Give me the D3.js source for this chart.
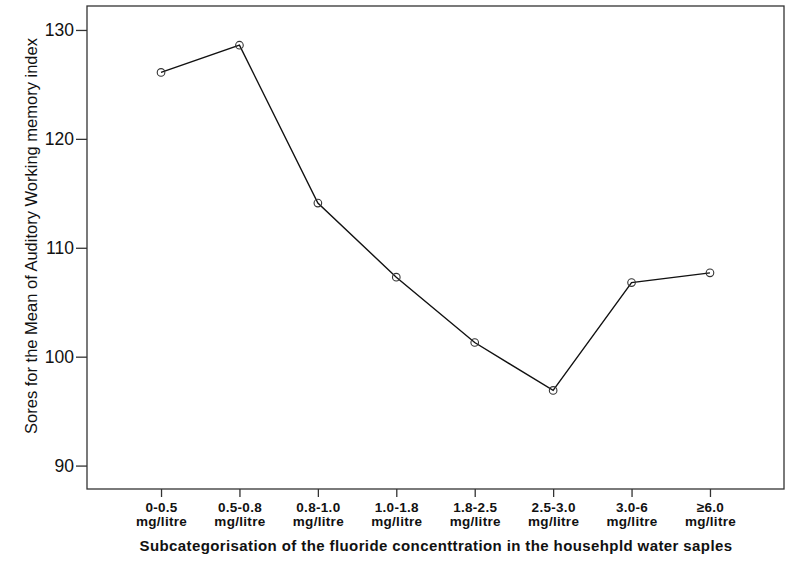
<!DOCTYPE html>
<html><head><meta charset="utf-8">
<script src="https://cdn.jsdelivr.net/npm/d3@7"></script>
<style>body{margin:0;background:#fff}svg{display:block}</style>
</head><body>
<script>
const categories = ["0-0.5", "0.5-0.8", "0.8-1.0", "1.0-1.8", "1.8-2.5", "2.5-3.0", "3.0-6", "\u22656.0"];
const unitLabel = "mg/litre";
const values = [126.1, 128.6, 114.1, 107.3, 101.3, 96.9, 106.8, 107.7];
const yTicks = [90, 100, 110, 120, 130];
const xTitle = "Subcategorisation of the fluoride concenttration in the househpld water saples";
const yTitle = "Sores for the Mean of Auditory Working memory index";

const W = 792, H = 567;
const plot = {left: 87, top: 6, right: 784, bottom: 489};
const svg = d3.select("body").append("svg").attr("width", W).attr("height", H);

const x = d3.scalePoint().domain(categories).range([plot.left, plot.right]).padding(0.944);
const y = d3.scaleLinear().domain([87.85, 132.2]).range([plot.bottom, plot.top]);

// frame
svg.append("rect").attr("x", plot.left).attr("y", plot.top)
  .attr("width", plot.right - plot.left).attr("height", plot.bottom - plot.top)
  .attr("fill", "none").attr("stroke", "#333").attr("stroke-width", 1.3);

// y axis
const yAxis = svg.append("g").attr("transform", `translate(${plot.left},0)`)
  .call(d3.axisLeft(y).tickValues(yTicks).tickSize(11).tickPadding(2).tickFormat(d3.format("d")));
yAxis.select(".domain").remove();
yAxis.selectAll("line").attr("stroke", "#333").attr("stroke-width", 1.3);
yAxis.selectAll("text").attr("font-family", "Liberation Sans, Arial, sans-serif")
  .attr("font-size", 17.5).attr("fill", "#111");

// x axis
const xAxis = svg.append("g").attr("transform", `translate(0,${plot.bottom})`)
  .call(d3.axisBottom(x).tickSize(8).tickFormat(""));
xAxis.select(".domain").remove();
xAxis.selectAll("line").attr("stroke", "#333").attr("stroke-width", 1.3);
xAxis.selectAll(".tick").each(function(d) {
  const t = d3.select(this).append("text").attr("text-anchor", "middle")
    .attr("font-family", "Liberation Sans, Arial, sans-serif").attr("font-weight", "bold")
    .attr("font-size", 13.5).attr("letter-spacing", 0.3).attr("fill", "#111");
  t.append("tspan").attr("x", 0).attr("y", 22.5).text(d);
  t.append("tspan").attr("x", 0).attr("y", 36.5).text(unitLabel);
});

// line
const line = d3.line().x((d, i) => x(categories[i])).y(d => y(d));
svg.append("path").datum(values).attr("d", line)
  .attr("fill", "none").attr("stroke", "#111").attr("stroke-width", 1.4);

svg.selectAll("circle.pt").data(values).enter().append("circle").attr("class", "pt")
  .attr("cx", (d, i) => x(categories[i])).attr("cy", d => y(d)).attr("r", 3.8)
  .attr("fill", "none").attr("stroke", "#333").attr("stroke-width", 1.1);

// titles
svg.append("text").attr("x", 436).attr("y", 551)
  .attr("text-anchor", "middle").attr("font-family", "Liberation Sans, Arial, sans-serif")
  .attr("font-weight", "bold").attr("font-size", 15).attr("letter-spacing", 0.4)
  .attr("fill", "#111").text(xTitle);

svg.append("text").attr("transform", `translate(37,236) rotate(-90)`)
  .attr("text-anchor", "middle").attr("font-family", "Liberation Sans, Arial, sans-serif")
  .attr("font-size", 16.5).attr("fill", "#111").text(yTitle);
</script>
</body></html>
